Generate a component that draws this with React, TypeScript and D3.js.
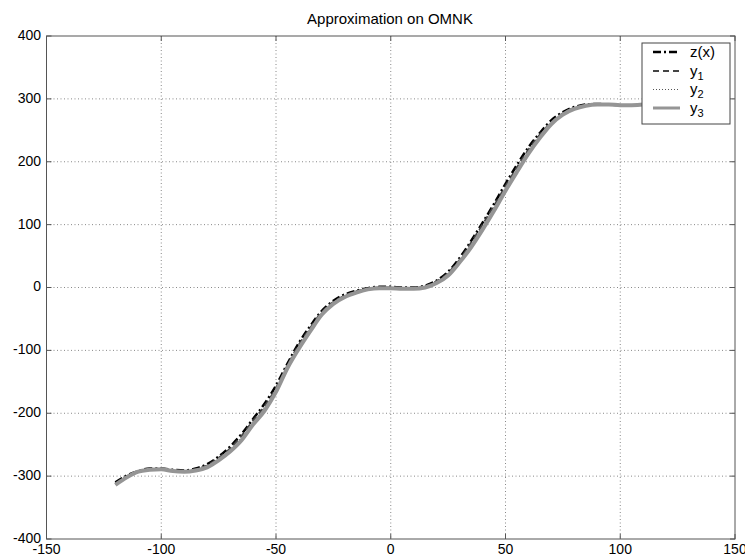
import React from "react";
import * as d3 from "d3";

const WIDTH = 745;
const HEIGHT = 557;
const M = { left: 46.5, right: 735, top: 36, bottom: 539 };

// sample points
const xs = [
  -120, -115, -110, -105, -100, -95, -90, -85, -80, -75, -70, -65, -60, -55, -50, -45, -40, -35, -30, -25, -20, -15, -10, -5,
  0, 5, 10, 15, 20, 25, 30, 35, 40, 45, 50, 55, 60, 65, 70, 75, 80, 85, 90, 95, 100, 105, 110, 115, 120,
];
const zVals = [
  -310, -299, -292, -288, -288, -290, -291, -288, -281, -269, -253, -233, -209, -185, -156, -121, -88, -61, -37, -21, -11, -5, -1, 1,
  1, 0, 0, 3, 11, 25, 47, 74, 103, 133, 165, 195, 223, 246, 266, 279, 287, 291, 292, 291, 290, 290, 292, 299, 308,
];
const y1Vals = [
  -312, -300, -292, -289, -288, -291, -292, -289, -283, -271, -256, -236, -212, -189, -160, -124, -91, -64, -39, -23, -13, -6, -2, 0,
  0, -1, -1, 2, 10, 23, 44, 71, 100, 130, 161, 191, 219, 243, 263, 277, 286, 290, 292, 291, 290, 290, 291, 298, 307,
];
const y2Vals = [
  -313, -301, -293, -289, -289, -291, -292, -290, -284, -272, -257, -238, -214, -191, -162, -126, -93, -65, -40, -24, -14, -7, -2, 0,
  0, -1, -2, 1, 9, 22, 43, 70, 98, 128, 159, 189, 217, 241, 262, 276, 285, 290, 292, 291, 290, 290, 291, 297, 306,
];
const y3Vals = [
  -314, -302, -293, -290, -289, -292, -293, -291, -286, -275, -261, -243, -218, -196, -166, -128, -97, -69, -43, -26, -15, -8, -3, -1,
  -1, -2, -2, 0, 7, 19, 40, 64, 92, 122, 154, 184, 213, 238, 260, 275, 284, 289, 291, 291, 290, 290, 291, 297, 306,
];

const xTicks = [-150, -100, -50, 0, 50, 100, 150];
const yTicks = [-400, -300, -200, -100, 0, 100, 200, 300, 400];
const legendLabels = ["z(x)", "y1", "y2", "y3"];

const FONT = "'Liberation Sans', Arial, Helvetica, sans-serif";

const series = [
  { vals: zVals, stroke: "#000", width: 2.5, dash: "8,3,2,3" },
  { vals: y1Vals, stroke: "#444", width: 2, dash: "6,4" },
  { vals: y2Vals, stroke: "#555", width: 1, dash: "1,2" },
  { vals: y3Vals, stroke: "#959595", width: 4, dash: "" },
];

export default function App() {
  const x = d3.scaleLinear().domain([-150, 150]).range([M.left, M.right]);
  const y = d3.scaleLinear().domain([-400, 400]).range([M.bottom, M.top]);

  const line = (vals: number[]) =>
    d3
      .line<number>()
      .x((_, i) => x(xs[i]))
      .y((d) => y(d))
      .curve(d3.curveMonotoneX)(vals) || "";

  const lx = 642;
  const ly = 43;
  const lw = 88;
  const lh = 81;
  const rowY = [52, 71, 89.5, 108];

  return (
    <svg
      width={WIDTH}
      height={HEIGHT}
      style={{ position: "absolute", left: 0, top: 0, background: "#fff" }}
    >
      <rect x={0} y={0} width={WIDTH} height={HEIGHT} fill="#fff" />
      {/* grid */}
      <g stroke="#888" strokeWidth={1} strokeDasharray="1,2.5">
        {xTicks.slice(1, -1).map((t) => (
          <line key={"gx" + t} x1={x(t)} x2={x(t)} y1={M.top} y2={M.bottom} />
        ))}
        {yTicks.slice(1, -1).map((t) => (
          <line key={"gy" + t} x1={M.left} x2={M.right} y1={y(t)} y2={y(t)} />
        ))}
      </g>

      {/* curves */}
      <g fill="none" strokeLinejoin="round">
        {series.map((s, i) => (
          <path
            key={i}
            d={line(s.vals)}
            stroke={s.stroke}
            strokeWidth={s.width}
            strokeDasharray={s.dash || undefined}
          />
        ))}
      </g>

      {/* axes box + ticks */}
      <rect
        x={M.left}
        y={M.top}
        width={M.right - M.left}
        height={M.bottom - M.top}
        fill="none"
        stroke="#555"
        strokeWidth={1}
      />
      <g stroke="#555">
        {xTicks.map((t) => (
          <g key={"tx" + t}>
            <line x1={x(t)} x2={x(t)} y1={M.bottom} y2={M.bottom - 5} />
            <line x1={x(t)} x2={x(t)} y1={M.top} y2={M.top + 5} />
          </g>
        ))}
        {yTicks.map((t) => (
          <g key={"ty" + t}>
            <line x1={M.left} x2={M.left + 5} y1={y(t)} y2={y(t)} />
            <line x1={M.right} x2={M.right - 5} y1={y(t)} y2={y(t)} />
          </g>
        ))}
      </g>

      <g fontFamily={FONT} fontSize={14} fill="#000">
        {xTicks.map((t) => (
          <text key={"lx" + t} x={x(t)} y={553.5} textAnchor="middle">
            {t}
          </text>
        ))}
        {yTicks.map((t) => (
          <text key={"ly" + t} x={41} y={y(t)} dy="0.28em" textAnchor="end">
            {t}
          </text>
        ))}
      </g>

      <text x={390} y={24} textAnchor="middle" fontFamily={FONT} fontSize={15}>
        Approximation on OMNK
      </text>

      {/* legend */}
      <g>
        <rect x={lx} y={ly} width={lw} height={lh} fill="#fff" stroke="#444" strokeWidth={1} />
        {series.map((s, i) => (
          <g key={"lg" + i}>
            <line
              x1={653}
              x2={680}
              y1={rowY[i]}
              y2={rowY[i]}
              stroke={s.stroke}
              strokeWidth={i === 3 ? 3 : s.width}
              strokeDasharray={s.dash || undefined}
            />
            <text x={690} y={rowY[i]} dy="0.3em" fontFamily={FONT} fontSize={15}>
              {i === 0 ? (
                legendLabels[i]
              ) : (
                <>
                  {legendLabels[i][0]}
                  <tspan fontSize={11} dy="4">
                    {legendLabels[i].slice(1)}
                  </tspan>
                </>
              )}
            </text>
          </g>
        ))}
      </g>
    </svg>
  );
}
